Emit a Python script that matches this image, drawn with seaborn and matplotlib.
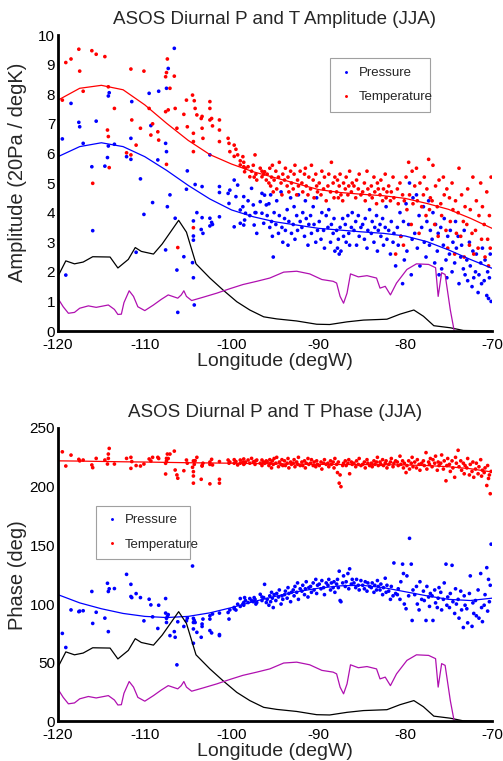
import numpy as np
import pandas as pd
import matplotlib
matplotlib.use('Agg')
import matplotlib.pyplot as plt
import seaborn as sns

sns.set_style('white')
plt.rcParams['font.family'] = ['Liberation Sans', 'DejaVu Sans']
plt.rcParams['axes.unicode_minus'] = False

# station longitudes (west, sparse part then dense eastern part)
station_lon = [
    -119.5, -119.1, -118.5, -117.6, -117.5, -117.1, -116.1, -116.0, -115.6, -114.6,
    -114.3, -114.2, -114.2, -114.1, -113.5, -112.1, -111.6, -111.6, -111.5, -111.0,
    -110.5, -110.1, -109.5, -109.3, -109.1, -108.5, -108.4, -107.6, -107.6, -107.5,
    -107.5, -107.4, -107.3, -107.1, -106.6, -106.5, -106.3, -106.2, -105.5, -105.2,
    -105.1, -104.5, -104.4, -104.4, -104.4, -104.4, -104.3, -104.2, -104.0, -103.5,
    -103.4, -103.3, -103.4, -102.5, -102.5, -102.5, -102.3, -102.2, -101.4, -101.4,
    -101.4, -100.4, -100.3, -100.2, -99.7, -99.7, -99.5, -99.3, -99.0, -99.0,
    -98.7, -98.6, -98.6, -98.5, -98.4, -98.1, -97.9, -97.7, -97.5, -97.4,
    -97.3, -97.2, -97.1, -96.7, -96.5, -96.5, -96.3, -96.2, -96.0,
    -95.9, -95.7, -95.6, -95.5, -95.4, -95.3, -95.2, -95.1,
    -94.9, -94.8, -94.6, -94.5, -94.3, -94.2, -94.1,
    -93.9, -93.8, -93.6, -93.5, -93.4, -93.2, -93.1,
    -92.9, -92.8, -92.7, -92.5, -92.4, -92.3, -92.1,
    -91.9, -91.8, -91.6, -91.5, -91.4, -91.2, -91.1,
    -90.9, -90.8, -90.6, -90.5, -90.3, -90.2, -90.1,
    -89.9, -89.7, -89.6, -89.4, -89.3, -89.1,
    -88.9, -88.8, -88.6, -88.5, -88.3, -88.2, -88.1,
    -87.9, -87.8, -87.7, -87.6, -87.5, -87.4, -87.2, -87.1,
    -86.9, -86.8, -86.6, -86.5, -86.4, -86.2, -86.1,
    -85.9, -85.7, -85.6, -85.4, -85.3, -85.1,
    -84.9, -84.7, -84.6, -84.4, -84.3, -84.1,
    -83.9, -83.8, -83.6, -83.5, -83.3, -83.2, -83.1,
    -82.9, -82.8, -82.6, -82.5, -82.3, -82.2, -82.1,
    -81.9, -81.7, -81.6, -81.4, -81.3, -81.1,
    -80.9, -80.8, -80.6, -80.5, -80.3, -80.2, -80.1,
    -79.9, -79.8, -79.6, -79.5, -79.3, -79.2, -79.1,
    -78.9, -78.7, -78.6, -78.4, -78.3, -78.1,
    -77.9, -77.8, -77.6, -77.5, -77.3, -77.2, -77.1,
    -76.9, -76.8, -76.6, -76.5, -76.3, -76.2, -76.1,
    -75.9, -75.8, -75.6, -75.5, -75.3, -75.2, -75.1,
    -74.9, -74.8, -74.6, -74.5, -74.3, -74.2, -74.1,
    -73.9, -73.8, -73.6, -73.5, -73.3, -73.2, -73.1,
    -72.9, -72.8, -72.6, -72.5, -72.3, -72.2, -72.1,
    -71.9, -71.8, -71.6, -71.5, -71.3, -71.2, -71.1,
    -70.9, -70.8, -70.6, -70.5, -70.4, -70.3, -70.2, -70.1,
]

# diurnal pressure amplitude (20 Pa)
p_amp = [
    6.49, 1.89, 7.69, 7.05, 6.90, 6.34, 5.55, 3.39, 7.09, 5.57,
    5.86, 6.25, 7.94, 8.05, 6.31, 5.89, 6.51, 5.80, 7.75, 2.66,
    5.14, 3.94, 8.03, 6.94, 4.34, 5.78, 8.10, 6.34, 2.74, 6.06,
    8.20, 4.20, 8.87, 4.60, 9.55, 3.81, 2.06, 0.63, 2.51, 4.79,
    5.41, 2.31, 3.72, 3.07, 3.21, 1.80, 0.88, 4.95, 4.00, 3.43,
    3.83, 3.30, 4.88, 5.95, 3.55, 3.81, 3.67, 3.60, 4.88, 4.68,
    3.86, 4.65, 4.31, 4.76, 5.10, 3.52, 4.54, 4.93, 4.09, 3.64,
    4.20, 4.54, 3.58, 3.75, 3.98, 4.40, 3.90, 4.82, 4.26, 3.58,
    4.00, 4.00, 3.30, 4.37, 4.65, 3.98, 3.64, 4.59, 4.26,
    3.9, 4.3, 3.5, 4.6, 3.7, 3.2, 2.5, 4.0,
    3.6, 4.4, 3.3, 3.9, 4.7, 3.5, 3.0,
    3.8, 3.4, 4.1, 2.9, 3.7, 4.5, 3.3,
    3.6, 4.2, 3.1, 3.9, 3.4, 4.6, 3.7,
    3.5, 4.0, 3.2, 4.4, 3.8, 2.9, 3.6,
    3.9, 3.3, 4.2, 3.6, 3.0, 4.5, 3.4,
    3.7, 3.1, 4.0, 3.4, 2.8, 3.9,
    3.5, 4.1, 3.0, 3.6, 3.3, 3.8, 2.7,
    3.4, 2.8, 3.1, 2.6, 3.5, 2.7, 3.8, 3.2,
    3.6, 3.0, 3.9, 3.3, 2.9, 3.5, 4.0,
    3.4, 3.7, 2.9, 3.9, 3.2, 3.5,
    3.6, 3.1, 3.8, 2.8, 3.4, 4.1,
    3.3, 3.7, 3.0, 3.5, 3.9, 2.7, 3.4,
    3.6, 3.2, 3.8, 2.9, 3.5, 4.2, 3.1,
    3.4, 2.6, 3.7, 3.0, 3.3, 2.2,
    3.5, 2.9, 4.0, 3.2, 1.6, 3.7, 2.4,
    4.3, 2.7, 3.6, 5.0, 1.9, 3.1, 4.5,
    3.3, 4.6, 2.8, 3.9, 2.2, 3.5,
    4.2, 3.0, 2.5, 3.7, 4.4, 2.9, 3.4,
    3.1, 4.0, 2.3, 3.6, 2.7, 3.3, 1.9,
    3.5, 2.1, 2.9, 3.8, 2.4, 1.8, 3.2,
    2.6, 3.4, 2.0, 3.0, 2.3, 3.7, 2.8,
    3.2, 1.6, 2.5, 2.9, 2.1, 3.4, 1.9,
    2.4, 1.7, 3.0, 2.2, 1.5, 2.7, 1.8,
    2.0, 2.6, 1.3, 1.9, 2.3, 1.6, 2.8,
    1.7, 2.4, 1.2, 2.0, 1.1, 1.8, 2.6, 1.0,
]

# diurnal temperature amplitude (degK)
t_amp = [
    7.80, 9.07, 9.19, 9.52, 8.78, 8.10, 9.47, 4.99, 9.35, 9.27,
    6.79, 6.57, 8.25, 5.52, 7.52, 6.02, 8.85, 5.95, 7.13, 6.28,
    6.85, 8.78, 7.52, 6.62, 7.00, 6.73, 6.45, 8.59, 7.41, 8.73,
    5.63, 9.19, 7.47, 8.20, 8.61, 7.52, 6.85, 2.82, 7.32, 7.80,
    6.90, 7.97, 6.40, 6.06, 3.49, 6.68, 7.78, 7.52, 7.30, 7.18,
    6.85, 6.51, 7.25, 7.52, 7.13, 7.75, 7.18, 6.93, 7.13, 6.79,
    6.40, 6.51, 6.34, 6.06, 6.28, 5.90, 6.14, 5.95, 5.61, 5.75,
    5.89, 5.55, 5.70, 5.38, 5.50, 5.55, 5.21, 5.40, 5.60, 5.20,
    5.95, 5.30, 5.10, 5.50, 5.21, 5.40, 5.30, 5.38, 5.10,
    5.3, 5.0, 5.5, 4.9, 5.2, 5.6, 4.7, 5.1,
    5.4, 4.8, 5.2, 5.7, 5.0, 4.6, 5.3,
    5.1, 5.5, 4.9, 5.2, 4.7, 5.4, 5.0,
    4.8, 5.3, 5.6, 4.6, 5.1, 4.9, 5.4,
    5.0, 4.7, 5.3, 5.5, 4.9, 4.6, 5.2,
    4.8, 5.6, 5.1, 4.5, 5.3, 4.9, 4.7,
    5.0, 4.6, 5.4, 4.8, 5.2, 4.4,
    4.9, 5.3, 4.7, 5.7, 5.0, 4.5, 5.2,
    4.7, 5.1, 4.5, 4.9, 5.3, 4.6, 4.4, 5.0,
    4.8, 5.2, 4.6, 4.9, 5.4, 4.7, 5.0,
    4.9, 4.5, 5.1, 4.8, 5.3, 4.6,
    4.7, 5.0, 4.4, 5.4, 4.8, 4.6,
    4.9, 4.5, 5.2, 4.7, 4.3, 5.0, 4.8,
    4.6, 5.1, 4.4, 4.8, 5.3, 4.5, 4.7,
    4.9, 4.4, 4.7, 5.2, 4.5, 2.6,
    4.8, 4.3, 5.0, 3.2, 4.6, 2.9, 4.4,
    5.2, 4.1, 5.7, 4.6, 3.6, 5.4, 4.3,
    4.9, 5.5, 4.4, 3.3, 5.0, 4.2,
    4.6, 5.2, 3.9, 4.8, 5.8, 4.1, 4.5,
    4.4, 5.6, 3.6, 4.9, 4.2, 3.2, 5.1,
    4.3, 3.9, 5.2, 4.6, 3.4, 4.8, 2.8,
    4.5, 3.7, 5.0, 4.1, 2.6, 4.4, 3.3,
    4.0, 5.5, 3.2, 4.6, 3.7, 2.5, 4.2,
    3.6, 4.8, 2.9, 4.1, 3.3, 5.2, 2.6,
    3.4, 4.4, 2.8, 3.9, 5.0, 3.1, 4.2,
    3.6, 2.5, 4.7, 3.1, 2.2, 3.9, 2.8, 5.2,
]

# diurnal pressure phase (deg)
p_phase = [
    75, 63, 95, 93.5, 94, 94.3, 110.7, 83.5, 93, 88,
    117.7, 76.5, 110.7, 113, 113.2, 125.3, 116.8, 106.4, 105.5, 108.9,
    105.5, 85.7, 104.1, 99.3, 89.1, 79.2, 99, 104.7, 92.3, 87.8,
    84.3, 89.4, 91, 73.1, 76.5, 71.7, 48.2, 84.9, 80.9, 85.7,
    88, 132.4, 66.6, 87.8, 78.8, 84.3, 86, 84.3, 75.9, 71.7,
    80.9, 87.2, 83, 87.2, 77.4, 90, 75.4, 91.5, 73.1, 92.3,
    74, 92.8, 87.2, 95, 97.1, 96, 94.9, 99.9, 104.7, 98,
    100, 101.3, 99, 105.5, 103, 101.3, 104.7, 103, 102, 105.5,
    104, 100, 101.3, 108.3, 103, 106, 105.5, 116.8, 101.3,
    104, 99, 107, 102, 110, 105, 97, 108,
    103, 109, 106, 112, 100, 107, 104,
    108, 111, 105, 114, 109, 102, 110,
    112, 107, 115, 110, 118, 104, 113,
    111, 116, 108, 113, 119, 106, 114,
    115, 110, 118, 112, 121, 109, 116,
    117, 113, 120, 114, 108, 118,
    116, 121, 112, 118, 114, 119, 110,
    117, 121, 114, 128, 103, 102, 118, 124,
    115, 119, 126, 113, 130, 117, 121,
    118, 114, 121, 116, 112, 120,
    116, 113, 119, 111, 118, 115,
    114, 118, 110, 116, 112, 120, 115,
    112, 117, 108, 114, 122, 110, 116,
    111, 104, 115, 107, 135, 109,
    108, 113, 104, 119, 134, 126, 100,
    96, 124, 107, 156, 134, 86, 112,
    108, 115, 100, 95, 119, 104,
    111, 103, 86, 115, 106, 98, 109,
    107, 86, 112, 101, 97, 105, 114,
    110, 95, 104, 118, 134, 99, 106,
    97, 109, 133, 102, 92, 113, 100,
    104, 88, 111, 95, 80, 107, 99,
    96, 84, 109, 124, 81, 101, 92,
    103, 90, 112, 88, 126, 97, 85,
    99, 108, 131, 94, 121, 102, 116, 151,
]

# diurnal temperature phase (deg)
t_phase = [
    229.7, 217.6, 226.9, 223.3, 222, 222.7, 218.5, 216.2, 224.1, 222.7,
    219.3, 227.8, 224.1, 232.6, 219.3, 224.1, 225, 215.6, 221.4, 218,
    217.6, 219.3, 223.6, 221.9, 225, 225, 224, 219.9, 210.8, 224.1,
    222, 227.8, 224, 227.8, 230.3, 214.2, 210, 207.2, 213.6, 222.7,
    220, 216.5, 212.8, 209.1, 203, 222, 219, 222.2, 225, 206.3,
    217.6, 220, 218, 202.4, 219, 221, 223.3, 218.5, 206.3, 203,
    221.4, 222.7, 220, 221, 223, 220, 221.4, 218.5, 222.7, 220,
    221, 223.6, 219, 219.9, 221, 222.7, 220, 224.1, 221, 221.4,
    219, 222, 222.7, 220, 222.7, 218, 221, 219.9, 222,
    221, 218, 223, 220, 216, 222, 219, 224,
    220, 225, 217, 221, 219, 223, 218,
    222, 218, 220, 224, 216, 221, 219,
    220, 223, 217, 221, 219, 225, 218,
    221, 218, 222, 216, 220, 224, 219,
    220, 223, 218, 221, 217, 222, 219,
    218, 221, 215, 220, 223, 219,
    220, 217, 222, 219, 221, 216, 224,
    219, 212, 221, 203, 210, 200, 218, 220,
    222, 218, 220, 223, 211, 221, 219,
    220, 217, 222, 219, 224, 218,
    219, 221, 216, 223, 220, 218,
    220, 217, 222, 219, 221, 225, 218,
    221, 219, 223, 218, 220, 222, 216,
    219, 221, 224, 217, 220, 222,
    221, 218, 226, 219, 222, 216, 220,
    212, 218, 222, 215, 220, 225, 217,
    221, 216, 223, 219, 214, 220,
    222, 218, 229, 215, 221, 219, 224,
    217, 223, 220, 226, 214, 221, 218,
    220, 227, 215, 222, 205, 218, 224,
    219, 213, 222, 216, 208, 225, 220,
    231, 217, 222, 214, 220, 211, 218,
    216, 224, 210, 219, 213, 221, 208,
    215, 220, 211, 217, 223, 209, 214,
    212, 216, 201, 218, 207, 210, 194, 213,
]

# smooth fits
fit_lon = [-120, -117.5, -115, -112.5, -110, -107.5, -105, -102.5, -100, -97.5, -95,
           -92.5, -90, -87.5, -85, -82.5, -80, -77.5, -75, -72.5, -70]
t_amp_fit = [7.8, 8.2, 8.3, 8.15, 7.64, 7.02, 6.44, 5.96, 5.64, 5.38, 5.18,
             4.98, 4.78, 4.68, 4.62, 4.57, 4.48, 4.31, 4.11, 3.81, 3.47]
p_amp_fit = [5.89, 6.23, 6.36, 6.23, 5.89, 5.43, 4.92, 4.46, 4.09, 3.86, 3.69,
             3.58, 3.47, 3.41, 3.35, 3.30, 3.21, 3.02, 2.74, 2.42, 2.12]
t_phase_fit = [222, 221.8, 221.5, 221.2, 221, 220.7, 220.4, 220.2, 220, 219.7, 219.5,
               219.3, 219, 218.9, 218.8, 218.7, 218.5, 218, 217, 215.3, 212.5]
p_phase_fit = [108, 101, 96, 92, 89.5, 88.5, 89.5, 92.5, 97, 102, 106.5,
               110.5, 113.5, 115.5, 116, 114, 110.5, 107, 104, 103, 105]

# black and magenta reference profiles (amplitude units)
black_lon = [-120, -119.1, -118.1, -117.1, -116.0, -114.0, -113.1, -111.9, -111.1, -110.4,
             -109.0, -108.0, -106.1, -105.2, -104.1, -102.5, -101.0, -99.4, -97.9, -96.3,
             -94.8, -92.5, -90.2, -88.7, -86.7, -84.8, -82.1, -80.6, -79.0, -77.9,
             -76.7, -74.8, -73.3, -70.0]
black_amp = [1.85, 2.37, 2.27, 2.33, 2.51, 2.50, 2.13, 2.42, 2.82, 2.69,
             2.60, 2.94, 3.74, 3.34, 2.27, 1.79, 1.39, 0.99, 0.71, 0.48,
             0.41, 0.34, 0.23, 0.22, 0.31, 0.37, 0.40, 0.57, 0.71, 0.50,
             0.18, 0.11, 0.02, 0.0]
mag_lon = [-120, -119.4, -118.8, -118.1, -117.5, -116.5, -115.6, -114.2, -113.5, -113.1,
           -112.7, -112.4, -111.8, -111.3, -110.8, -110.0, -109.0, -108.1, -107.3, -106.2,
           -105.8, -105.5, -105.2, -104.6, -103.3, -101.7, -100.2, -98.7, -97.1, -95.6,
           -94.0, -92.5, -91.0, -89.6, -88.3, -87.9, -87.5, -87.1, -86.7, -86.3,
           -85.4, -84.4, -83.3, -82.9, -82.3, -81.7, -81.0, -79.8, -78.7, -77.3,
           -76.5, -76.2, -75.8, -75.4, -74.8, -74.35, -74.0]
mag_amp = [1.10, 0.82, 0.60, 0.63, 0.77, 0.85, 0.80, 0.88, 0.73, 0.56,
           0.57, 0.96, 1.36, 1.17, 0.82, 0.69, 0.88, 1.07, 1.22, 1.11,
           1.22, 1.36, 1.17, 1.03, 1.14, 1.28, 1.43, 1.57, 1.68, 1.79,
           1.99, 2.02, 1.93, 1.74, 1.68, 1.62, 1.17, 0.94, 1.28, 1.93,
           1.83, 1.87, 1.79, 1.45, 1.51, 1.22, 1.62, 2.08, 2.27, 2.25,
           2.14, 1.17, 1.97, 1.91, 0.71, 0.0, -0.4]
phase_scale = 25  # same profiles drawn in phase units

colors = {'Pressure': 'blue', 'Temperature': 'red'}
magenta = '#b010b0'


def draw_panel(ax, p_vals, t_vals, p_fit, t_fit, scale, ylim, yticks, title, ylabel,
               label_y, leg_box):
    df = pd.DataFrame({'lon': station_lon, 'Pressure': p_vals, 'Temperature': t_vals})
    df = df.melt(id_vars='lon', var_name='series', value_name='value')
    sns.scatterplot(data=df, x='lon', y='value', hue='series', palette=colors,
                    s=7, linewidth=0, ax=ax)
    sns.lineplot(x=fit_lon, y=p_fit, color='blue', lw=0.9, ax=ax)
    sns.lineplot(x=fit_lon, y=t_fit, color='red', lw=0.9, ax=ax)
    sns.lineplot(x=black_lon, y=np.array(black_amp) * scale, color='black', lw=0.9,
                 sort=False, estimator=None, ax=ax)
    sns.lineplot(x=mag_lon, y=np.array(mag_amp) * scale, color=magenta, lw=0.9,
                 sort=False, estimator=None, ax=ax)

    ax.set_xlim(-120, -70)
    ax.set_ylim(*ylim)
    ax.set_xticks([-120, -110, -100, -90, -80, -70])
    ax.set_yticks(yticks)
    ax.set_title(title, fontsize=13.5, pad=8)
    ax.set_xlabel('Longitude (degW)', fontsize=14, labelpad=0.5)
    ax.set_ylabel(ylabel, fontsize=14.5)
    ax.yaxis.set_label_coords(-0.072, label_y)
    for s in ['top', 'right']:
        ax.spines[s].set_visible(False)
    for s in ['left', 'bottom']:
        ax.spines[s].set_linewidth(2)
        ax.spines[s].set_color('black')
    ax.tick_params(direction='in', length=4, width=1.5, labelsize=11,
                   colors='black')
    ax.tick_params(axis='x', pad=5)
    ax.tick_params(axis='y', pad=2)

    handles, labels = ax.get_legend_handles_labels()
    leg = ax.legend(handles[:2], labels[:2], loc='lower left', bbox_to_anchor=leg_box,
                    mode='expand', borderaxespad=0, fontsize=9.5, frameon=True,
                    fancybox=False, edgecolor='#888888', markerscale=0.8,
                    handletextpad=0.4, borderpad=0.65, labelspacing=0.9,
                    handlelength=1.1)
    leg.get_frame().set_linewidth(0.8)


fig = plt.figure(figsize=(5.03, 7.61), dpi=100)
ax1 = fig.add_axes([0.1153, 0.565, 0.8628, 0.389])
ax2 = fig.add_axes([0.1153, 0.052, 0.8628, 0.3856])

draw_panel(ax1, p_amp, t_amp, p_amp_fit, t_amp_fit, 1, (0, 10), range(0, 11),
           'ASOS Diurnal P and T Amplitude (JJA)', 'Amplitude (20Pa / degK)', 0.535,
           (0.627, 0.74, 0.23, 0.17))
draw_panel(ax2, p_phase, t_phase, p_phase_fit, t_phase_fit, phase_scale, (0, 250),
           range(0, 251, 50), 'ASOS Diurnal P and T Phase (JJA)', 'Phase (deg)', 0.5,
           (0.088, 0.553, 0.216, 0.203))

fig.savefig('out.png', dpi=100)
